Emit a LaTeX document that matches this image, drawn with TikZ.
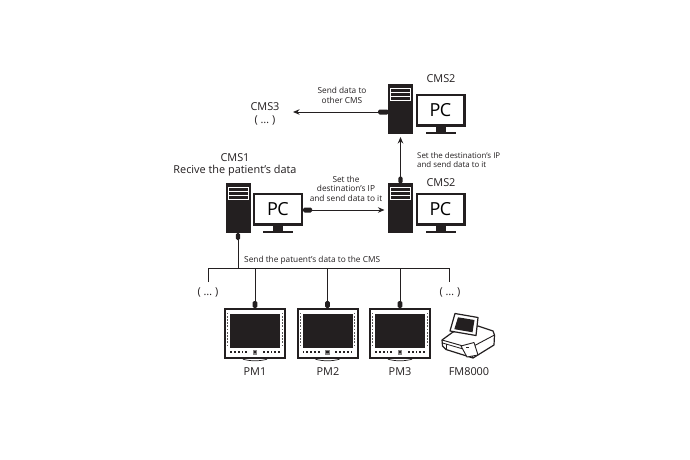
\documentclass[tikz,border=0pt]{standalone}
\usepackage{fontspec}
\setmainfont{Open Sans}
\usetikzlibrary{arrows.meta}
\definecolor{ink}{HTML}{231F20}
\tikzset{
  towerbox/.style={fill=ink,draw=none,minimum width=25pt,minimum height=50pt,inner sep=0pt,outer sep=0pt},
  screenbox/.style={draw=ink,line width=2.4pt,fill=white,minimum width=47.6pt,minimum height=30.6pt,inner sep=0pt,outer sep=1.2pt,font=\fontsize{18}{18}\selectfont\addfontfeatures{LetterSpace=-3}},
  pmbox/.style={draw=ink,line width=2pt,fill=white,minimum width=60pt,minimum height=49pt,inner sep=0pt,outer sep=1pt},
  big/.style={font=\fontsize{10.9}{12.2}\selectfont,text=ink,align=center,inner sep=0pt},
  small/.style={font=\fontsize{8.3}{9.5}\selectfont,text=ink,align=center,inner sep=0pt},
  wire/.style={draw=ink,line width=1pt},
  arrowwire/.style={wire,-{Stealth[length=6.5pt,width=5.5pt]}},
  plug/.style={fill=ink,draw=none,rounded corners=1.5pt},
}
\newcommand{\pcset}[3]{% name, tower centre x, top y
  \node[towerbox] (#1t) at (#2,#3+25) {};
  \fill[white] (#2-10.5,#3+4) rectangle (#2+10.5,#3+17);
  \fill[ink] (#2-9.5,#3+5) rectangle (#2+9.5,#3+16);
  \fill[white] (#2-9.5,#3+8.2) rectangle (#2+9.5,#3+9.2);
  \fill[white] (#2-9.5,#3+12) rectangle (#2+9.5,#3+13);
  \node[screenbox] (#1m) at (#2+40,#3+26) {PC};
  \fill[ink] (#2+35,#3+42) rectangle (#2+45,#3+48);
  \fill[ink] (#2+25,#3+48) rectangle (#2+55,#3+50);
}
\newcommand{\pmon}[2]{% name, centre x
  \node[pmbox] (#1) at (#2,333.5) {};
  \fill[ink] (#2-25,314) rectangle (#2+25,347.5);
  \foreach \i in {-24,-20.2,-16.4,-12.6,-8.8,8.8,12.6,16.4,20.2,24}{\fill[ink] (#2+\i-.9,351.3) rectangle (#2+\i+.9,353.1);}
  \fill[ink!55] (#2-2.4,349.8) rectangle (#2+2.4,354.6);
  \fill[ink] (#2-1.1,351.1) rectangle (#2+1.1,353.3);
  \foreach \s in {-1,1}{\foreach \j in {0,3.2,...,35}{\fill[ink!75] (#2+\s*27.4-.5,312.5+\j) rectangle (#2+\s*27.4+.5,314.3+\j);}}
  \draw[ink,line width=.7pt] (#2-12,359.2) .. controls (#2-5,361.3) and (#2+5,361.3) .. (#2+12,359.2);
}
\begin{document}
\begin{tikzpicture}[x=1pt,y=-1pt]
\useasboundingbox (0,0) rectangle (690,460);
\fill[white] (0,0) rectangle (690,460);

% computers
\pcset{a}{238}{183}
\pcset{b}{400.5}{183}
\pcset{c}{400.5}{84}

% plugs and their free-end coordinates
\fill[plug] (303,207.5) rectangle (312,212.5);
\coordinate (aout) at (312,210);
\coordinate (bin) at (384.5,210);
\fill[plug] (378,109.5) rectangle (388.5,114.5);
\coordinate (cout) at (378,112);
\coordinate (cmsthree) at (293,112);
\fill[plug] (398.3,176.5) rectangle (402.7,183.5);
\coordinate (bup) at (400.5,176.5);
\coordinate (cin) at (400.5,137);
\fill[plug] (235.8,233) rectangle (240.2,240);
\coordinate (adown) at (238,240);

% bus
\coordinate (bus) at (238,268);
\coordinate (busl) at (208,268);
\coordinate (busr) at (449,268);
\coordinate (endl) at (208,282);
\coordinate (endr) at (449,282);
\draw[wire] (adown) -- (bus);
\draw[wire] (endl) -- (busl) -- (busr) -- (endr);

% patient monitors
\pmon{pm1}{255}
\pmon{pm2}{327.5}
\pmon{pm3}{400}
\foreach \n/\x in {pm1/255,pm2/327.5,pm3/400}{
  \fill[plug] (\x-2.4,301) rectangle (\x+2.4,308);
  \coordinate (\n top) at (\x,301);
  \draw[wire] (\x,268) -- (\n top);
}

% arrows
\draw[arrowwire] (aout) -- (bin);
\draw[arrowwire] (cout) -- (cmsthree);
\draw[arrowwire] (bup) -- (cin);

% fetal monitor
\node[inner sep=0pt,minimum size=0pt] (fm) at (467,336) {};
\begin{scope}[ink,line join=round]
  \draw[line width=1.2pt,fill=white] (442,340) -- (453,332) -- (478,326) -- (493,331) -- (494.5,335) -- (494,345) -- (473,358) -- (446,349.5) -- (442.5,346) -- cycle;
  \draw[line width=.9pt] (442,340) -- (470,348) -- (494.5,335);
  \draw[line width=.9pt] (470,348) -- (473,358);
  \draw[line width=.9pt] (446,343.5) -- (446,349.5);
  \draw[line width=.8pt] (442.5,343) -- (470,351);
  \draw[line width=.9pt,fill=white] (461,346) -- (474,342.5) -- (478,355) -- (467,357) -- cycle;
  \fill (466,346.5) rectangle (468.5,348);
  \draw[line width=1.2pt,fill=white] (455,313.5) -- (478,317.5) -- (476,335.5) -- (450,331) -- cycle;
  \fill (458,317.3) -- (474.5,320) -- (472.5,332.3) -- (454.3,329.2) -- cycle;
\end{scope}

% labels
\node[big] (l1) at (235,165) {CMS1\\Recive the patient’s data};
\node[big] (l2) at (441,78.5) {CMS2};
\node[big] (l3) at (441,183) {CMS2};
\node[big] (l4) at (265,114) {CMS3\\( \dots\ )};
\node[small] (s1) at (342,95.5) {Send data to\\other CMS};
\node[small] (s2) at (346,188.5) {Set the\\destination’s IP\\and send data to it};
\node[small,align=left,anchor=west,font=\fontsize{7.9}{9.3}\selectfont] (s3) at (417,160) {Set the destination’s IP\\and send data to it};
\node[small,anchor=west] (s4) at (244,260) {Send the patuent’s data to the CMS};
\node[big] (d1) at (208,292) {( \dots\ )};
\node[big] (d2) at (450,292) {( \dots\ )};
\node[big] (p1) at (255,371.5) {PM1};
\node[big] (p2) at (328,371.5) {PM2};
\node[big] (p3) at (400,371.5) {PM3};
\node[big] (p4) at (469,371.5) {FM8000};
\end{tikzpicture}
\end{document}
